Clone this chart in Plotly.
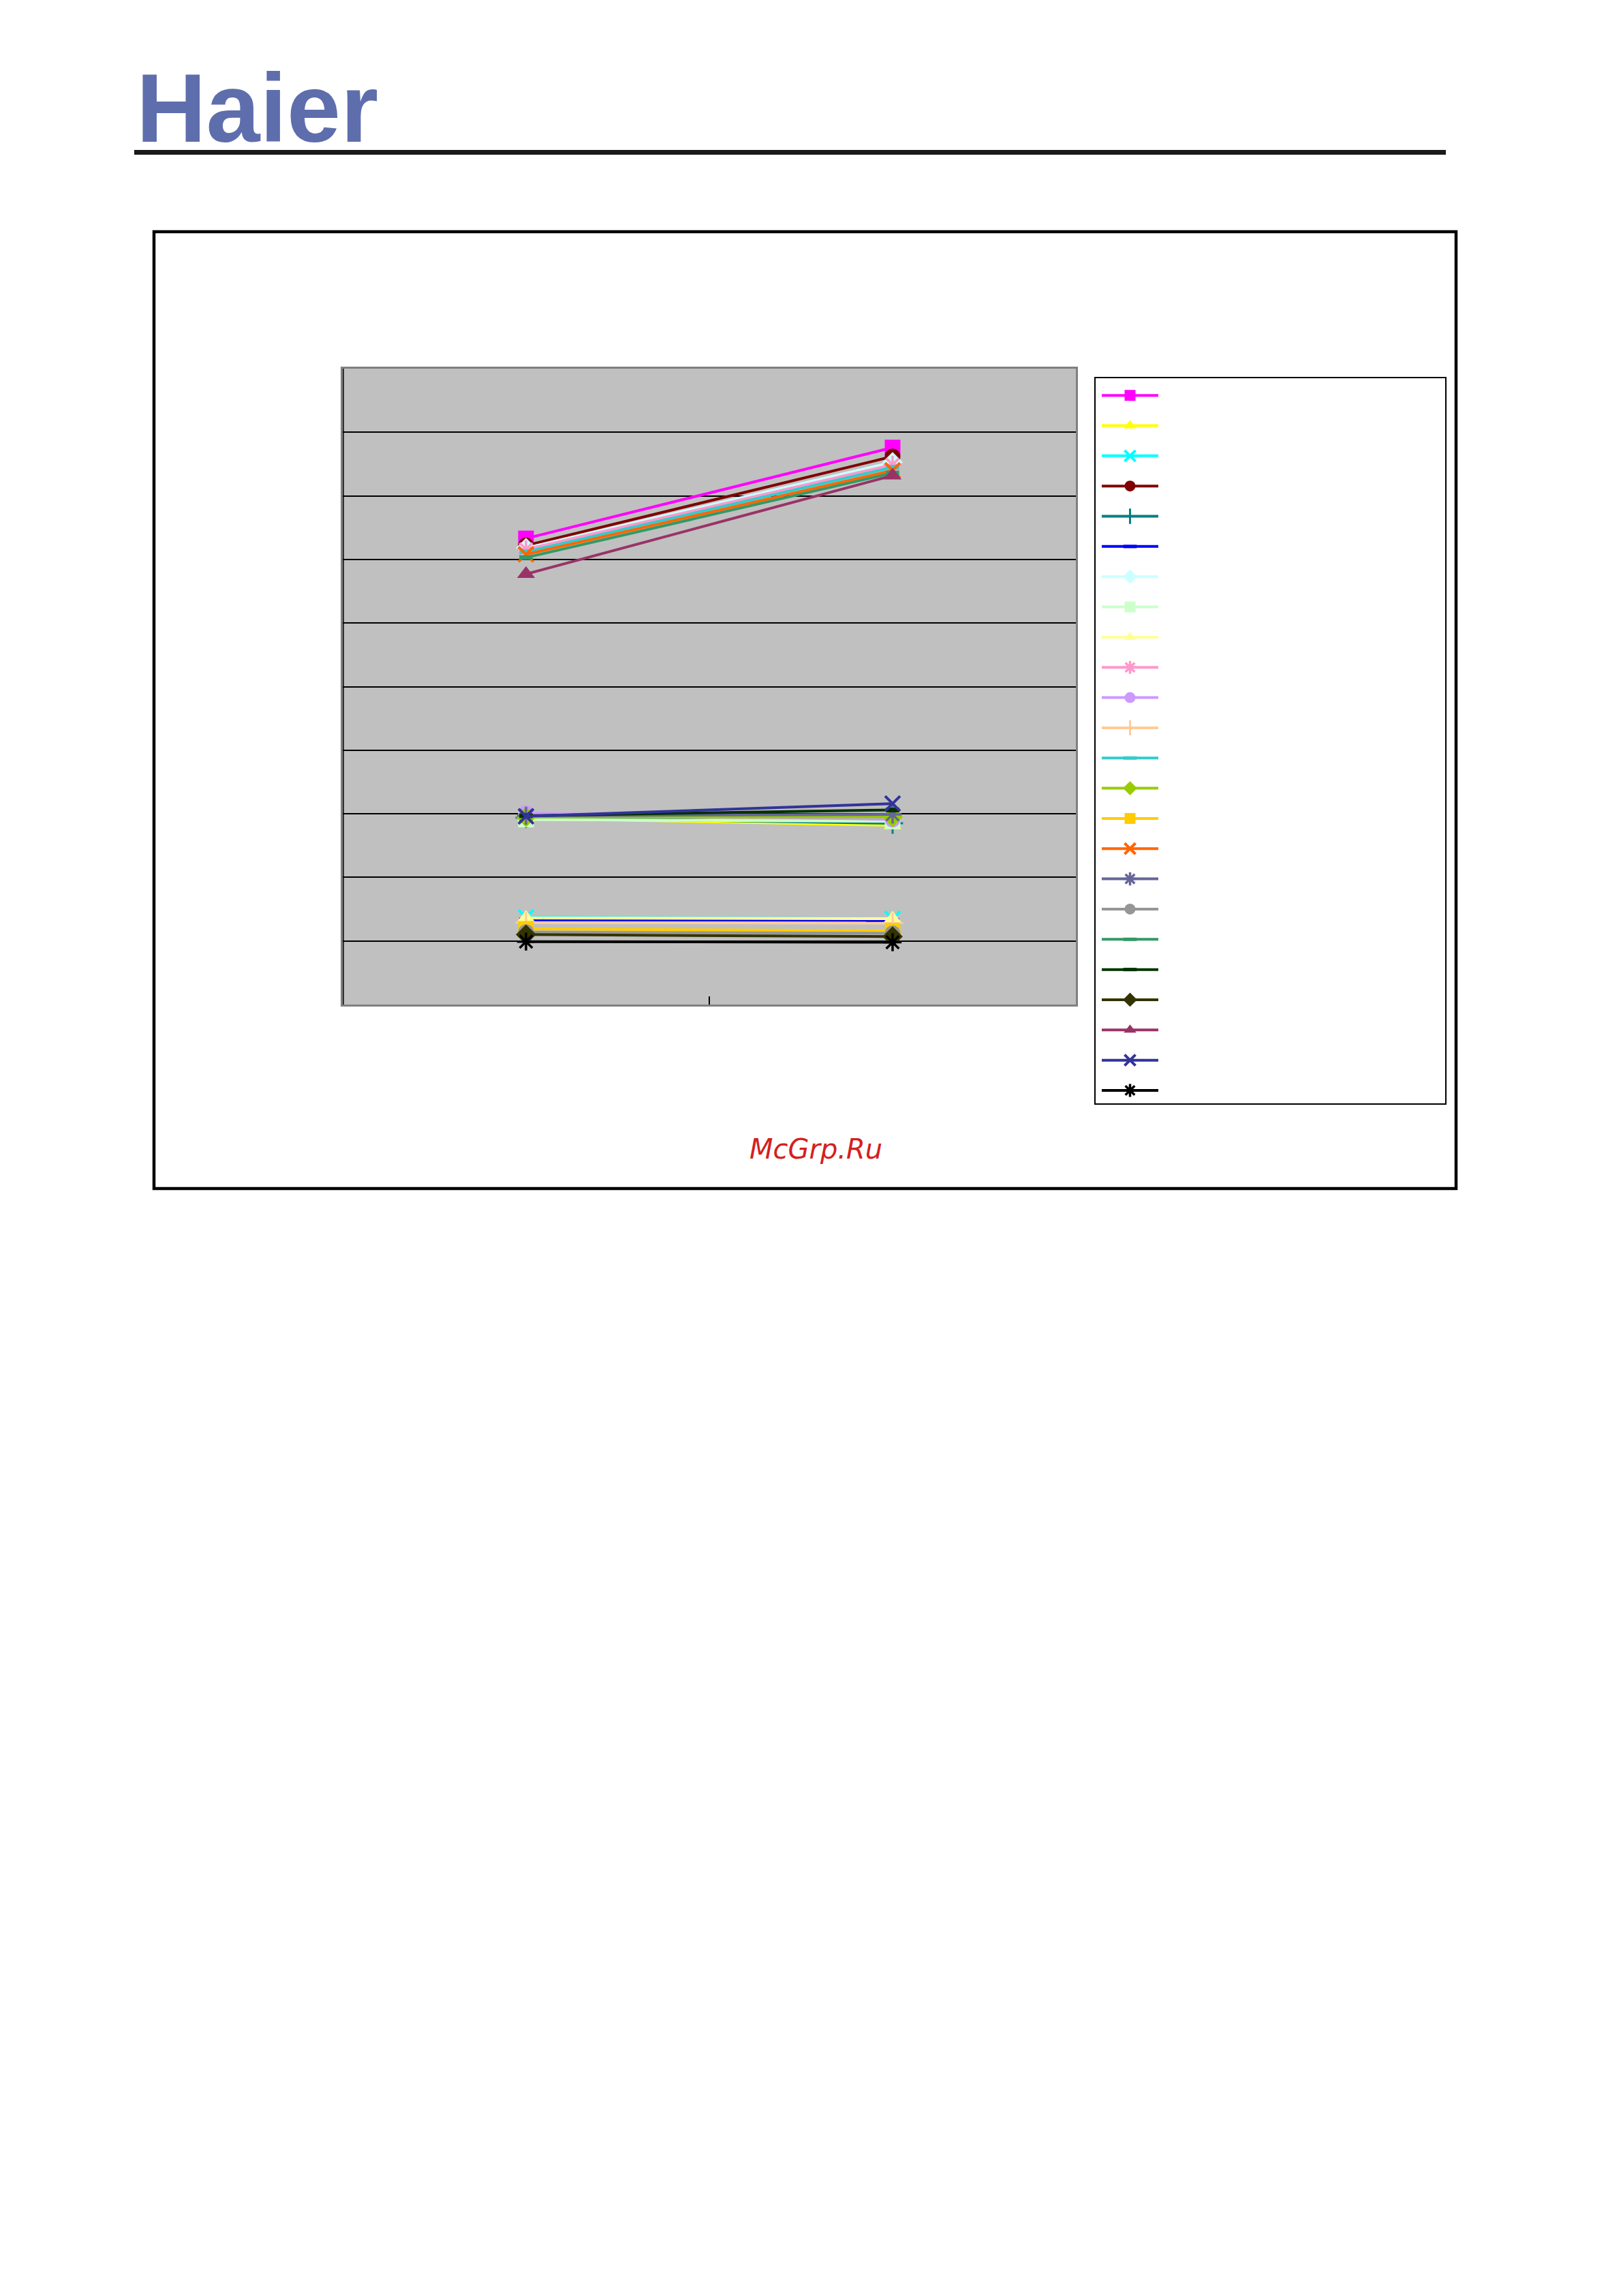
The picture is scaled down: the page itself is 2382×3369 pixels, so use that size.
import plotly.graph_objects as go

W, H = 2382, 3369
OFF = 8  # default page body margin offsets the figure

# ---------------- data ----------------
x_points = [0, 1]

s01 = [7.33, 8.76]
s02 = [2.93, 2.82]
s03 = [1.37, 1.35]
s04 = [7.22, 8.62]
s05 = [2.94, 2.85]
s06 = [1.33, 1.32]
s07 = [7.18, 8.53]
s08 = [2.91, 2.88]
s09 = [1.36, 1.35]
s10 = [7.16, 8.49]
s11 = [3.01, 2.91]
s12 = [1.29, 1.28]
s13 = [7.12, 8.45]
s14 = [2.95, 2.95]
s15 = [1.19, 1.16]
s16 = [7.08, 8.40]
s17 = [2.97, 2.99]
s18 = [1.14, 1.12]
s19 = [7.03, 8.36]
s20 = [2.97, 3.06]
s21 = [1.10, 1.07]
s22 = [6.77, 8.32]
s23 = [2.96, 3.16]
s24 = [0.99, 0.98]

series_values = [s01, s02, s03, s04, s05, s06, s07, s08, s09, s10, s11, s12,
                 s13, s14, s15, s16, s17, s18, s19, s20, s21, s22, s23, s24]

y_major_ticks = [2, 5, 7, 10]

# ---------------- styles ----------------
colors = ["#FF00FF", "#FFFF00", "#00FFFF", "#800000", "#008080", "#0000FF",
          "#CCFFFF", "#CCFFCC", "#FFFF99", "#FF99CC", "#CC99FF", "#FFCC99",
          "#33CCCC", "#99CC00", "#FFCC00", "#FF6600", "#666699", "#969696",
          "#339966", "#003300", "#333300", "#993366", "#333399", "#000000"]
symbols = ["square", "triangle-up", "x-thin", "circle", "cross-thin", "line-ew",
           "diamond", "square", "triangle-up", "asterisk", "circle", "cross-thin",
           "line-ew", "diamond", "square", "x-thin", "asterisk", "circle",
           "line-ew", "line-ew", "diamond", "triangle-up", "x-thin", "asterisk"]

open_syms = {"x-thin": (22, 4), "cross-thin": (22, 3), "asterisk": (22, 3.5), "line-ew": (14, 7)}

fig = go.Figure()
for i, vals in enumerate(series_values):
    sym = symbols[i]
    c = colors[i]
    if sym in open_syms:
        sz, lw = open_syms[sym]
        marker = dict(symbol=sym, size=sz, color=c, line=dict(color=c, width=lw))
    else:
        marker = dict(symbol=sym, size=23, color=c, line=dict(width=0))
    fig.add_trace(go.Scatter(
        x=x_points, y=vals, mode="lines+markers", name=" ",
        line=dict(color=c, width=4), marker=marker, showlegend=True,
    ))

def px(v):
    return (v - OFF) / W

def py(v):
    return 1 - (v - OFF) / H

plot_l, plot_r, plot_t, plot_b = 503, 1579, 541, 1474

fig.update_layout(
    width=W, height=H, autosize=False,
    margin=dict(l=0, r=0, t=0, b=0, pad=0),
    paper_bgcolor="white", plot_bgcolor="#C0C0C0",
    showlegend=True,
    legend=dict(
        x=px(1612), y=py(553), xanchor="left", yanchor="top",
        bgcolor="rgba(0,0,0,0)", borderwidth=0,
        font=dict(size=31.8, family="Liberation Sans", color="black"),
        itemwidth=83, itemsizing="trace", tracegroupgap=0,
    ),
    xaxis=dict(
        domain=[px(plot_l), px(plot_r)], range=[-0.5, 1.5],
        showgrid=False, zeroline=False, showticklabels=False,
        tickvals=[0.5], ticks="inside", ticklen=12, tickcolor="black", tickwidth=1.5,
        showline=True, mirror=True, linecolor="#808080", linewidth=3,
    ),
    yaxis=dict(
        domain=[py(plot_b), py(plot_t)], range=[0, 10],
        showgrid=True, gridcolor="black", gridwidth=1.5, zeroline=False,
        showticklabels=False, tickvals=y_major_ticks, ticks="inside", ticklen=10,
        tickcolor="black", tickwidth=2,
        minor=dict(dtick=1, showgrid=True, gridcolor="black", gridwidth=1.5, ticks=""),
        showline=True, mirror=True, linecolor="#808080", linewidth=3,
    ),
)

shapes = [
    # outer frame
    dict(type="rect", xref="paper", yref="paper", x0=px(226), x1=px(2137), y0=py(340), y1=py(1744),
         line=dict(color="black", width=4.5), fillcolor="rgba(0,0,0,0)", layer="above"),
    # header rule
    dict(type="line", xref="paper", yref="paper", x0=px(197), x1=px(2122), y0=py(223.5), y1=py(223.5),
         line=dict(color="#1a1a1a", width=7)),
    # legend box
    dict(type="rect", xref="paper", yref="paper", x0=px(1607), x1=px(2122), y0=py(554), y1=py(1620),
         line=dict(color="black", width=2), fillcolor="rgba(0,0,0,0)", layer="above"),
    # black value-axis line inside plot border
    dict(type="line", xref="paper", yref="paper", x0=px(plot_l + 1), x1=px(plot_l + 1),
         y0=py(plot_t), y1=py(plot_b), line=dict(color="black", width=1.5), layer="above"),
]
fig.update_layout(shapes=shapes)

fig.add_annotation(
    text="Haier", xref="paper", yref="paper", x=px(198), y=py(158),
    xanchor="left", yanchor="middle", showarrow=False,
    font=dict(family="Liberation Sans", size=142, color="#5E6EAD", weight="bold"),
)
fig.add_annotation(
    text="McGrp.Ru", xref="paper", yref="paper", x=px(1197), y=py(1686),
    xanchor="center", yanchor="middle", showarrow=False,
    font=dict(family="DejaVu Sans", size=40, color="#D42020", style="italic"),
)

fig.write_html("out.html")
